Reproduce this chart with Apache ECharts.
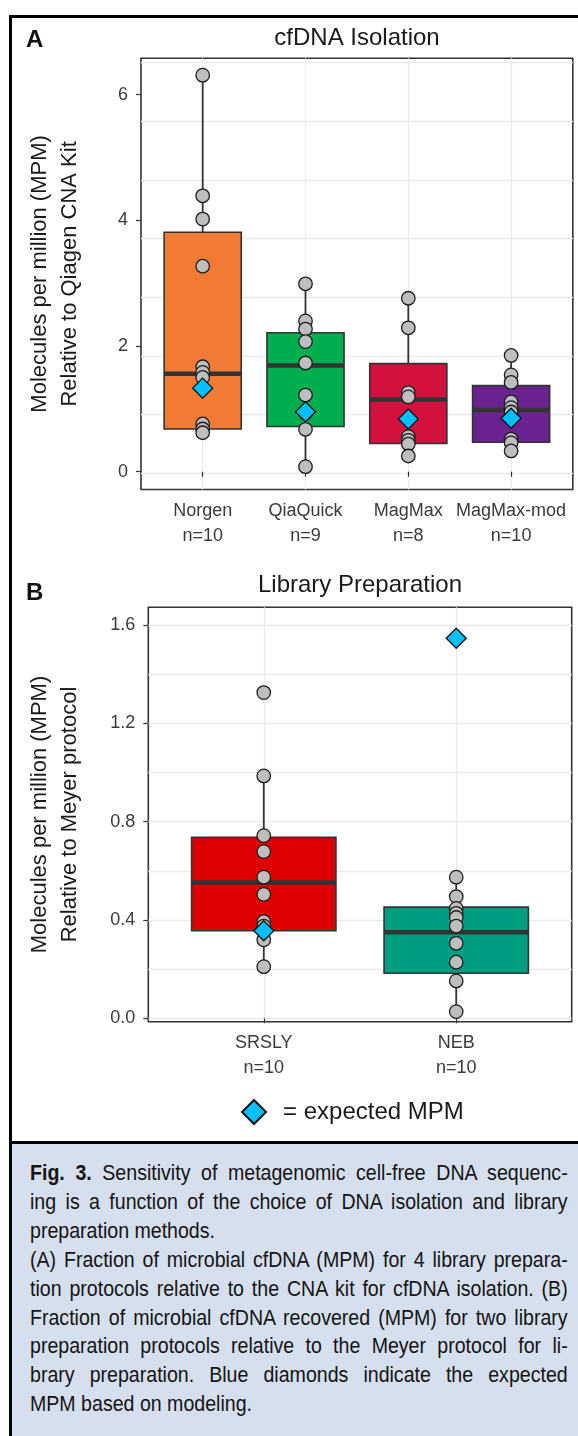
<!DOCTYPE html>
<html>
<head>
<meta charset="utf-8">
<script src="https://cdn.jsdelivr.net/npm/echarts@6/dist/echarts.min.js"></script>
<style>
body { margin: 0; width: 578px; height: 1436px; overflow: hidden; background: #fff; position: relative; }
#frame { position: absolute; left: 9px; top: 15px; width: 640px; height: 1500px; border: 3px solid #000; box-sizing: border-box; }
#chart { position: absolute; left: 0; top: 0; width: 578px; height: 1140px; }
#caption {
  position: absolute; left: 12px; top: 1141px; width: 580px; height: 300px;
  background: #d6dfed; border-top: 3px solid #000; box-sizing: border-box;
}
#captext {
  position: absolute; left: 18px; top: 15px; width: 618px;
  transform: scaleX(0.87); transform-origin: 0 0;
  font-family: "Liberation Sans", Arial, sans-serif;
  font-size: 22.5px; line-height: 28.9px; color: #141414;
}
#captext .j { text-align: justify; text-align-last: justify; }
#captext .l { text-align: left; }
</style>
</head>
<body>
<div id="frame"></div>
<div id="chart"></div>
<div id="caption">
  <div id="captext">
    <div class="j"><b>Fig. 3.</b> Sensitivity of metagenomic cell-free DNA sequenc-</div>
    <div class="j">ing is a function of the choice of DNA isolation and library</div>
    <div class="l">preparation methods.</div>
    <div class="j">(A) Fraction of microbial cfDNA (MPM) for 4 library prepara-</div>
    <div class="j">tion protocols relative to the CNA kit for cfDNA isolation. (B)</div>
    <div class="j">Fraction of microbial cfDNA recovered (MPM) for two library</div>
    <div class="j">preparation protocols relative to the Meyer protocol for li-</div>
    <div class="j">brary preparation. Blue diamonds indicate the expected</div>
    <div class="l">MPM based on modeling.</div>
  </div>
</div>
<script>
// panel A: cfDNA isolation
const isoCategories = ['Norgen', 'QiaQuick', 'MagMax', 'MagMax-mod'];
const isoCounts = [10, 9, 8, 10];
const isoColors = ['#F17A35', '#00AE4F', '#D2113F', '#6A2290'];
// [lower whisker, Q1, median, Q3, upper whisker]
const isoBoxes = [
  [0.62, 0.68, 1.56, 3.81, 6.31],
  [0.08, 0.72, 1.69, 2.21, 2.99],
  [0.25, 0.45, 1.15, 1.72, 2.76],
  [0.33, 0.47, 0.98, 1.37, 1.85]
];
const isoPoints = [
  [6.31, 4.39, 4.02, 3.27, 1.67, 1.58, 1.50, 0.76, 0.68, 0.62],
  [2.99, 2.40, 2.27, 2.07, 1.73, 1.22, 0.93, 0.675, 0.08],
  [2.76, 2.29, 1.26, 1.19, 0.56, 0.50, 0.44, 0.25],
  [1.85, 1.54, 1.42, 1.11, 1.02, 0.95, 0.85, 0.52, 0.46, 0.33]
];
const isoExpected = [1.33, 0.955, 0.84, 0.85];
const isoTicks = [0, 2, 4, 6];
const isoGridLines = [0, 1, 2, 3, 4, 5, 6, 7];

// panel B: library preparation
const libCategories = ['SRSLY', 'NEB'];
const libCounts = [10, 10];
const libColors = ['#DD0000', '#009E80'];
const libBoxes = [
  [0.21, 0.356, 0.552, 0.736, 0.986],
  [0.027, 0.183, 0.35, 0.452, 0.574]
];
const libPoints = [
  [1.325, 0.986, 0.743, 0.678, 0.574, 0.504, 0.393, 0.375, 0.319, 0.21],
  [0.574, 0.495, 0.447, 0.427, 0.41, 0.375, 0.305, 0.228, 0.152, 0.027]
];
const libExpected = [0.356, 1.546];
const libTicks = [0, 0.4, 0.8, 1.2, 1.6];
const libGridLines = [0, 0.2, 0.4, 0.6, 0.8, 1.0, 1.2, 1.4, 1.6];

const font = '"Liberation Sans", Arial, sans-serif';
const gridColor = '#ebebeb';
const darkLine = '#333';

function boxRenderer(colors) {
  return function (params, api) {
    const x = api.value(0);
    const lo = api.coord([x, api.value(1)]);
    const q1 = api.coord([x, api.value(2)]);
    const md = api.coord([x, api.value(3)]);
    const q3 = api.coord([x, api.value(4)]);
    const hi = api.coord([x, api.value(5)]);
    const half = api.size([0.375, 0])[0];
    return {
      type: 'group',
      children: [
        { type: 'line', shape: { x1: lo[0], y1: lo[1], x2: q1[0], y2: q1[1] }, style: { stroke: darkLine, lineWidth: 1.8 } },
        { type: 'line', shape: { x1: q3[0], y1: q3[1], x2: hi[0], y2: hi[1] }, style: { stroke: darkLine, lineWidth: 1.8 } },
        { type: 'rect', shape: { x: q3[0] - half, y: q3[1], width: half * 2, height: q1[1] - q3[1] },
          style: { fill: colors[params.dataIndex], stroke: darkLine, lineWidth: 1.6 } },
        { type: 'line', shape: { x1: md[0] - half, y1: md[1], x2: md[0] + half, y2: md[1] }, style: { stroke: darkLine, lineWidth: 4.5 } }
      ]
    };
  };
}

function pointData(groups) {
  const out = [];
  groups.forEach((arr, i) => arr.forEach(v => out.push([i + 1, v])));
  return out;
}

function xAxisFor(gridIndex, cats, counts) {
  const vals = cats.map((c, i) => i + 1);
  return {
    gridIndex: gridIndex, type: 'value', min: 0.4, max: cats.length + 0.6,
    axisLine: { show: false },
    axisTick: { show: true, customValues: vals, length: 5, lineStyle: { color: darkLine, width: 1.2 } },
    axisLabel: {
      customValues: vals, fontSize: 18, lineHeight: 25, color: '#3a3a3a', margin: 9, fontFamily: font,
      formatter: v => cats[Math.round(v) - 1] + '\nn=' + counts[Math.round(v) - 1]
    },
    splitLine: { show: true, lineStyle: { color: gridColor, width: 1.3 } }
  };
}

const yNameStyle = { fontSize: 22, lineHeight: 30, color: '#1a1a1a', fontFamily: font };

const chart = echarts.init(document.getElementById('chart'));
chart.setOption({
  animation: false,
  title: [
    { text: 'cfDNA Isolation', left: 357, top: 26, textAlign: 'center', padding: 0,
      textStyle: { fontSize: 24, fontWeight: 'normal', color: '#1a1a1a', fontFamily: font } },
    { text: 'Library Preparation', left: 360, top: 573, textAlign: 'center', padding: 0,
      textStyle: { fontSize: 24, fontWeight: 'normal', color: '#1a1a1a', fontFamily: font } },
    { text: 'A', left: 26, top: 28, padding: 0, textStyle: { fontSize: 24, fontWeight: 'bold', color: '#111', fontFamily: font } },
    { text: 'B', left: 26, top: 581, padding: 0, textStyle: { fontSize: 24, fontWeight: 'bold', color: '#111', fontFamily: font } }
  ],
  legend: {
    data: ['= expected MPM'], left: 236, top: 1094, icon: 'diamond', itemWidth: 24, itemHeight: 24,
    selectedMode: false, textStyle: { fontSize: 24, color: '#1a1a1a', fontFamily: font, padding: [0, 0, 0, 12] }
  },
  grid: [
    { left: 141, top: 58.3, width: 431.8, height: 431.2, show: true, borderColor: darkLine, borderWidth: 1.6, outerBoundsMode: 'none' },
    { left: 148.3, top: 607.3, width: 423.4, height: 414.4, show: true, borderColor: darkLine, borderWidth: 1.6, outerBoundsMode: 'none' }
  ],
  xAxis: [
    xAxisFor(0, isoCategories, isoCounts),
    xAxisFor(1, libCategories, libCounts)
  ],
  yAxis: [
    {
      gridIndex: 0, type: 'value', min: -0.283, max: 6.578,
      axisLine: { show: false },
      axisTick: { show: true, customValues: isoTicks, length: 5, lineStyle: { color: darkLine, width: 1.2 } },
      axisLabel: { customValues: isoTicks, fontSize: 18, color: '#3a3a3a', margin: 13, fontFamily: font },
      splitLine: { show: false },
      name: 'Molecules per million (MPM)\nRelative to Qiagen CNA Kit', nameLocation: 'middle', nameGap: 56,
      nameTextStyle: yNameStyle
    },
    {
      gridIndex: 0, type: 'value', min: -0.276, max: 7.07, position: 'left',
      axisLine: { show: false }, axisLabel: { show: false },
      axisTick: { show: false, customValues: isoGridLines },
      splitLine: { show: true, lineStyle: { color: gridColor, width: 1.3 } }
    },
    {
      gridIndex: 1, type: 'value', min: -0.014, max: 1.672,
      axisLine: { show: false },
      axisTick: { show: true, customValues: libTicks, length: 5, lineStyle: { color: darkLine, width: 1.2 } },
      axisLabel: { customValues: libTicks, fontSize: 18, color: '#3a3a3a', margin: 13, fontFamily: font, formatter: v => v.toFixed(1) },
      splitLine: { show: false },
      name: 'Molecules per million (MPM)\nRelative to Meyer protocol', nameLocation: 'middle', nameGap: 63,
      nameTextStyle: yNameStyle
    },
    {
      gridIndex: 1, type: 'value', min: -0.014, max: 1.672, position: 'left',
      axisLine: { show: false }, axisLabel: { show: false },
      axisTick: { show: false, customValues: libGridLines },
      splitLine: { show: true, lineStyle: { color: gridColor, width: 1.3 } }
    }
  ],
  series: [
    {
      type: 'custom', xAxisIndex: 0, yAxisIndex: 0, z: 2,
      data: isoBoxes.map((b, i) => [i + 1].concat(b)),
      encode: { x: 0, y: [1, 2, 3, 4, 5] },
      renderItem: boxRenderer(isoColors)
    },
    {
      type: 'scatter', xAxisIndex: 0, yAxisIndex: 0, z: 3, symbol: 'circle', symbolSize: 13.5,
      itemStyle: { color: '#BEBEBE', borderColor: '#1e1e1e', borderWidth: 1.3, opacity: 1 },
      data: pointData(isoPoints)
    },
    {
      name: '= expected MPM', type: 'scatter', xAxisIndex: 0, yAxisIndex: 0, z: 4, symbol: 'diamond', symbolSize: 20,
      itemStyle: { color: '#00BFFF', borderColor: '#111', borderWidth: 1.3, opacity: 1 },
      data: isoExpected.map((v, i) => [i + 1, v])
    },
    {
      type: 'custom', xAxisIndex: 1, yAxisIndex: 2, z: 2,
      data: libBoxes.map((b, i) => [i + 1].concat(b)),
      encode: { x: 0, y: [1, 2, 3, 4, 5] },
      renderItem: boxRenderer(libColors)
    },
    {
      type: 'scatter', xAxisIndex: 1, yAxisIndex: 2, z: 3, symbol: 'circle', symbolSize: 13.5,
      itemStyle: { color: '#BEBEBE', borderColor: '#1e1e1e', borderWidth: 1.3, opacity: 1 },
      data: pointData(libPoints)
    },
    {
      name: '= expected MPM', type: 'scatter', xAxisIndex: 1, yAxisIndex: 2, z: 4, symbol: 'diamond', symbolSize: 20,
      itemStyle: { color: '#00BFFF', borderColor: '#111', borderWidth: 1.3, opacity: 1 },
      data: libExpected.map((v, i) => [i + 1, v])
    }
  ]
});
</script>
</body>
</html>
